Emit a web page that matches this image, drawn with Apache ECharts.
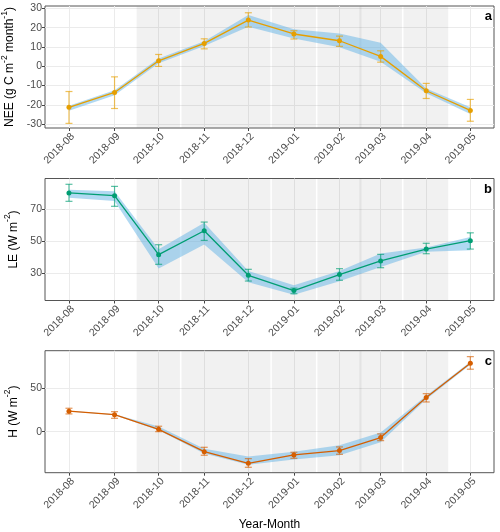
<!DOCTYPE html>
<html>
<head>
<meta charset="utf-8">
<script src="https://cdn.jsdelivr.net/npm/echarts@6/dist/echarts.min.js"></script>
<style>
html,body{margin:0;padding:0;background:#fff;}
#chart{width:500px;height:532px;}
</style>
</head>
<body>
<div id="chart"></div>
<script>
// ---------------- data ----------------
const months = ['2018-08','2018-09','2018-10','2018-11','2018-12','2019-01','2019-02','2019-03','2019-04','2019-05'];

const nee        = [-21.3, -13.6,  2.8, 11.8, 23.9, 16.7, 13.2,  5.1, -12.7, -22.9];
const neeErrLow  = [-29.6, -21.9, -0.1,  9.0, 20.3, 14.1, 10.3,  2.1, -16.7, -28.5];
const neeErrHigh = [-13.1,  -5.5,  6.1, 14.2, 27.7, 18.4, 15.6,  8.0,  -8.9, -17.2];
const neeRibLow  = [-23.0, -15.0,  1.5, 10.5, 20.5, 14.4,  9.8,  2.3, -14.0, -24.8];
const neeRibHigh = [-20.5, -12.5,  4.0, 13.0, 26.5, 19.1, 17.0, 12.2, -11.5, -21.3];

const le         = [80.0, 78.3, 41.6, 56.5, 28.8, 19.3, 29.2, 37.7, 45.1, 50.3];
const leErrLow   = [74.8, 71.7, 35.6, 50.5, 25.2, 17.3, 25.7, 33.5, 42.2, 45.1];
const leErrHigh  = [85.4, 84.1, 47.8, 61.9, 32.5, 20.8, 32.9, 41.8, 48.7, 55.2];
const leRibLow   = [77.0, 75.0, 33.0, 48.0, 24.5, 16.7, 25.0, 34.0, 43.5, 44.3];
const leRibHigh  = [82.0, 81.0, 45.0, 61.5, 31.5, 22.6, 31.5, 42.3, 46.0, 52.6];

const h          = [23.4, 19.5,  2.7, -22.9, -36.2, -26.7, -21.7,  -6.8, 39.0, 78.3];
const hErrLow    = [20.3, 15.3,  0.0, -27.0, -40.8, -30.5, -25.9, -10.3, 34.0, 71.5];
const hErrHigh   = [26.8, 22.9,  6.2, -17.9, -30.9, -23.6, -17.5,  -2.6, 43.5, 85.9];
const hRibLow    = [23.0, 19.0,  1.5, -25.0, -38.0, -32.0, -27.0, -12.0, 37.0, 76.5];
const hRibHigh   = [23.8, 20.0,  6.0, -19.5, -28.5, -23.0, -15.5,  -1.0, 41.0, 80.0];

// y tick values per panel
const neeTicks = [-30, -20, -10, 0, 10, 20, 30];
const leTicks  = [30, 50, 70];
const hTicks   = [0, 50];

// shaded periods (start, end)
const bandStarts = ['2018-09-16 00:00','2018-10-16 12:00','2018-12-17 00:00','2019-01-17 00:00','2019-02-14 12:00','2019-03-16 12:00'];
const bandEnds   = ['2018-10-15 12:00','2018-12-16 00:00','2019-01-16 00:00','2019-02-16 00:00','2019-03-15 12:00','2019-04-16 00:00'];

const panelLetters = ['a','b','c'];

// ---------------- build ----------------
const DAY = 86400000;
const P = s => echarts.time.parse(s.length === 7 ? s + '-01' : s).getTime();
const xs = months.map(P);
const xMin = xs[0] - 16.3 * DAY;
const xMax = xMin + 305.4 * DAY;

const panels = [
  {y: nee, lo: neeErrLow, hi: neeErrHigh, rlo: neeRibLow, rhi: neeRibHigh, ticks: neeTicks,
   range: [-32.0, 31.2], color: '#E69F00', err: 'rgba(230,159,0,0.65)',
   name: '{n|NEE (g C m}{s|-2}{n| month}{s|-1}{n|)}', top: 6},
  {y: le, lo: leErrLow, hi: leErrHigh, rlo: leRibLow, rhi: leRibHigh, ticks: leTicks,
   range: [13.1, 89.0], color: '#009E73', err: 'rgba(0,158,115,0.65)',
   name: '{n|LE (W m}{s|-2}{n|)}', top: 178.5},
  {y: h, lo: hErrLow, hi: hErrHigh, rlo: hRibLow, rhi: hRibHigh, ticks: hTicks,
   range: [-47, 92.7], color: '#D55E00', err: 'rgba(213,94,0,0.65)',
   name: '{n|H (W m}{s|-2}{n|)}', top: 350.7}
];

const grids = [], xAxes = [], yAxes = [], series = [], graphics = [];
const FONT = 'Liberation Sans, Arial, sans-serif';

panels.forEach((p, i) => {
  grids.push({left: 45, right: 6, top: p.top, height: 122, show: true,
    containLabel: false, outerBoundsMode: 'none',
    backgroundColor: '#fff', borderColor: '#555', borderWidth: 1});
  xAxes.push({
    type: 'value', gridIndex: i, min: xMin, max: xMax, position: 'bottom',
    axisLine: {show: false, onZero: false},
    axisTick: {show: true, length: 3, lineStyle: {color: '#444'}, customValues: xs},
    axisLabel: {customValues: xs, rotate: 45, verticalAlign: 'top', align: 'right',
      color: '#4D4D4D', fontSize: 10.5, fontFamily: FONT, margin: 3,
      formatter: v => echarts.time.format(v, '{yyyy}-{MM}', false)},
    splitLine: {show: true, lineStyle: {color: '#EBEBEB', width: 1}},
    name: i === 2 ? 'Year-Month' : '', nameLocation: 'middle', nameGap: 46,
    nameTextStyle: {color: '#000', fontSize: 12, fontFamily: FONT}
  });
  yAxes.push({
    type: 'value', gridIndex: i, min: p.range[0], max: p.range[1], position: 'left',
    axisLine: {show: false, onZero: false},
    axisTick: {show: true, length: 3, lineStyle: {color: '#444'}, customValues: p.ticks},
    axisLabel: {customValues: p.ticks, color: '#4D4D4D', fontSize: 10.5, fontFamily: FONT, margin: 3},
    splitLine: {show: true, lineStyle: {color: '#EBEBEB', width: 1}},
    name: p.name, nameLocation: 'middle', nameRotate: 90, nameGap: 17,
    nameTextStyle: {
      fontFamily: FONT, color: '#000',
      rich: {
        n: {fontSize: 12, fontFamily: FONT, color: '#000', lineHeight: 16, verticalAlign: 'bottom'},
        s: {fontSize: 8.5, fontFamily: FONT, color: '#000', lineHeight: 16, verticalAlign: 'top'}
      }
    }
  });

  // shaded periods
  series.push({
    type: 'custom', xAxisIndex: i, yAxisIndex: i, z: 1, silent: true,
    data: bandStarts.map((s, k) => [P(s), P(bandEnds[k])]),
    encode: {x: [0, 1]},
    renderItem: (params, api) => {
      const a = api.coord([api.value(0), p.range[0]]);
      const b = api.coord([api.value(1), p.range[0]]);
      const cs = params.coordSys;
      return {type: 'rect', shape: {x: a[0], y: cs.y + 0.5, width: b[0] - a[0], height: cs.height - 1},
        style: {fill: 'rgba(0,0,0,0.055)'}};
    }
  });

  // ribbon
  series.push({
    type: 'custom', xAxisIndex: i, yAxisIndex: i, z: 2, silent: true,
    data: xs.map((x, k) => [x, p.rlo[k], p.rhi[k]]),
    encode: {x: 0, y: [1, 2]},
    renderItem: (params, api) => {
      if (params.dataIndex !== 0) return null;
      const up = xs.map((x, k) => api.coord([x, p.rhi[k]]));
      const dn = xs.map((x, k) => api.coord([x, p.rlo[k]])).reverse();
      return {type: 'polygon', shape: {points: up.concat(dn)},
        style: {fill: 'rgba(100,180,230,0.5)'}};
    }
  });

  // error bars
  series.push({
    type: 'custom', xAxisIndex: i, yAxisIndex: i, z: 3, silent: true,
    data: xs.map((x, k) => [x, p.lo[k], p.hi[k]]),
    encode: {x: 0, y: [1, 2]},
    renderItem: (params, api) => {
      const x = api.value(0);
      const a = api.coord([x, api.value(1)]);
      const b = api.coord([x, api.value(2)]);
      const w = 3.5;
      const st = {stroke: p.err, lineWidth: 1.2};
      return {type: 'group', children: [
        {type: 'line', shape: {x1: a[0], y1: a[1], x2: b[0], y2: b[1]}, style: st},
        {type: 'line', shape: {x1: a[0] - w, y1: a[1], x2: a[0] + w, y2: a[1]}, style: st},
        {type: 'line', shape: {x1: b[0] - w, y1: b[1], x2: b[0] + w, y2: b[1]}, style: st}
      ]};
    }
  });

  // line + points
  series.push({
    type: 'line', xAxisIndex: i, yAxisIndex: i, z: 4,
    data: xs.map((x, k) => [x, p.y[k]]),
    symbol: 'circle', symbolSize: 5, showSymbol: true,
    lineStyle: {color: p.color, width: 1.3},
    itemStyle: {color: p.color, borderWidth: 0}
  });

  graphics.push({type: 'text', right: 8, top: p.top + 4, z: 100,
    style: {text: panelLetters[i], font: 'bold 13px ' + FONT, fill: '#000'}});
});

const chart = echarts.init(document.getElementById('chart'), null, {renderer: 'canvas'});
chart.setOption({
  animation: false,
  backgroundColor: '#fff',
  grid: grids, xAxis: xAxes, yAxis: yAxes, series: series, graphic: graphics
});
</script>
</body>
</html>
